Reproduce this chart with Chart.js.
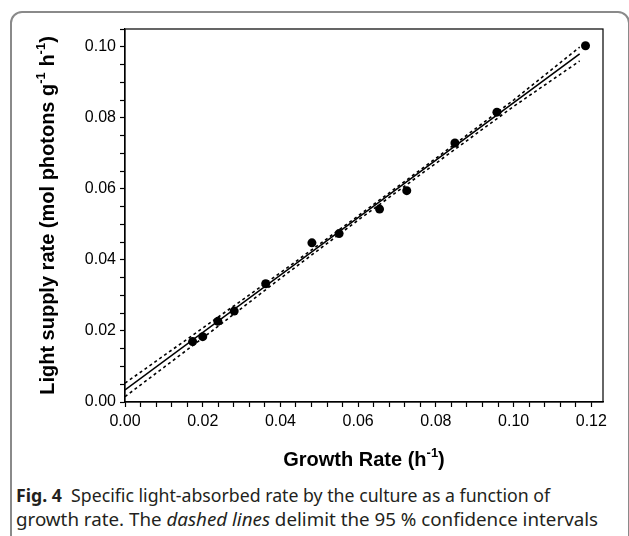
<!DOCTYPE html>
<html><head><meta charset="utf-8">
<script src="https://cdn.jsdelivr.net/npm/chart.js@4.4.1/dist/chart.umd.min.js"></script>
<style>
html,body{margin:0;padding:0;background:#fff}
body{width:629px;height:536px;overflow:hidden;position:relative}
#frame{position:absolute;left:10px;top:11px;width:620px;height:600px;border:2px solid #8a8a8a;border-radius:12px;box-sizing:border-box}
#wrap{position:absolute;left:0;top:0;width:629px;height:475px}
.cap{position:absolute;left:16px;font-family:'Noto Sans',sans-serif;font-size:18px;line-height:22px;color:#231f20;white-space:nowrap;transform-origin:0 50%}
</style></head><body>
<div id="frame"></div>
<div id="wrap"><canvas id="c"></canvas></div>
<div class="cap" id="cap1" style="top:484px"><b>Fig. 4</b>&nbsp; Specific light-absorbed rate by the culture as a function of</div>
<div class="cap" id="cap2" style="top:508px">growth rate. The <i>dashed lines</i> delimit the 95 % confidence intervals</div>
<script>
// measured points
const growthRate      = [0.0174, 0.0200, 0.0239, 0.0281, 0.0362, 0.0481, 0.0551, 0.0655, 0.0725, 0.0849, 0.0957, 0.1185];
const lightSupplyRate = [0.0170, 0.0184, 0.0227, 0.0256, 0.0333, 0.0448, 0.0474, 0.0543, 0.0595, 0.0729, 0.0816, 0.1003];
// regression line
const fitX = [0, 0.117];
const fitY = [0.0034, 0.0980];
// 95 % confidence bands
const ciX     = [0, 0.02, 0.04, 0.06, 0.08, 0.10, 0.117];
const ciUpper = [0.0053, 0.0208, 0.0364, 0.0524, 0.0686, 0.0850, 0.0999];
const ciLower = [0.0015, 0.0180, 0.0348, 0.0512, 0.0672, 0.0832, 0.0960];
// tick labels
const xTickLabels = ['0.00','0.02','0.04','0.06','0.08','0.10','0.12'];
const yTickLabels = ['0.00','0.02','0.04','0.06','0.08','0.10'];

// fit caption lines to the reference widths
(function () {
  const fit = (id, w) => {
    const el = document.getElementById(id);
    el.style.transform = 'scaleX(' + (w / el.getBoundingClientRect().width) + ')';
  };
  fit('cap1', 534);
  fit('cap2', 582);
})();

const xy = (xs, ys) => xs.map((x, i) => ({x: x, y: ys[i]}));
const tickFont = {family: "'Liberation Sans', Arial, sans-serif", size: 16};

const framePlugin = {
  id: 'framePlugin',
  afterDraw(chart) {
    const {ctx, chartArea: a} = chart;
    ctx.save();
    ctx.strokeStyle = '#000';
    ctx.lineWidth = 1.2;
    ctx.strokeRect(a.left, a.top, a.right - a.left, a.bottom - a.top);
    const drawRich = (parts, cx, cy) => {
      const big = "bold 20px 'Liberation Sans', Arial, sans-serif";
      const small = "bold 13px 'Liberation Sans', Arial, sans-serif";
      let w = 0;
      parts.forEach(p => { ctx.font = p.sup ? small : big; w += ctx.measureText(p.t).width; });
      let x = cx - w / 2;
      ctx.textBaseline = 'middle';
      ctx.textAlign = 'left';
      ctx.fillStyle = '#000';
      parts.forEach(p => {
        ctx.font = p.sup ? small : big;
        ctx.fillText(p.t, x, p.sup ? cy - 7 : cy);
        x += ctx.measureText(p.t).width;
      });
    };
    drawRich([{t:'Growth Rate (h'},{t:'-1',sup:true},{t:')'}], (a.left + a.right) / 2, 460);
    ctx.translate(48, (a.top + a.bottom) / 2);
    ctx.rotate(-Math.PI / 2);
    drawRich([{t:'Light supply rate (mol photons g'},{t:'-1',sup:true},{t:' h'},{t:'-1',sup:true},{t:')'}], 0, 0);
    ctx.restore();
  }
};

new Chart(document.getElementById('c'), {
  type: 'scatter',
  data: {
    datasets: [
      {data: xy(fitX, fitY), showLine: true, borderColor: '#000', borderWidth: 1.6, pointRadius: 0, order: 2},
      {data: xy(ciX, ciUpper), showLine: true, borderColor: '#000', borderWidth: 1.6, borderDash: [3, 3], pointRadius: 0, order: 3},
      {data: xy(ciX, ciLower), showLine: true, borderColor: '#000', borderWidth: 1.6, borderDash: [3, 3], pointRadius: 0, order: 3},
      {data: xy(growthRate, lightSupplyRate), showLine: false, pointRadius: 4.5, pointBackgroundColor: '#000', pointBorderColor: '#000', pointBorderWidth: 0, order: 1}
    ]
  },
  options: {
    responsive: true, maintainAspectRatio: false, animation: false,
    layout: {padding: {left: 0, right: 26, top: 29, bottom: 0}},
    plugins: {legend: {display: false}, tooltip: {enabled: false}},
    scales: {
      x: {
        type: 'linear', min: 0, max: 0.123,
        afterFit: s => { s.height = 73; },
        grid: {drawOnChartArea: false, tickLength: 5, color: '#000', tickColor: '#000', tickWidth: 1.2},
        border: {display: true, color: '#000', width: 1.2},
        ticks: {stepSize: 0.004, includeBounds: false, autoSkip: false, maxRotation: 0, padding: 5, color: '#000', font: tickFont,
          callback: v => { const s = v.toFixed(2); return (Math.round(v * 1000) % 20 === 0 && xTickLabels.includes(s)) ? s : ''; }}
      },
      y: {
        type: 'linear', min: 0, max: 0.105,
        afterFit: s => { s.width = 125; },
        grid: {drawOnChartArea: false, tickLength: 5, color: '#000', tickColor: '#000', tickWidth: 1.2},
        border: {display: true, color: '#000', width: 1.2},
        ticks: {stepSize: 0.005, includeBounds: false, autoSkip: false, padding: 4, color: '#000', font: tickFont,
          callback: v => { const s = v.toFixed(2); return (Math.round(v * 1000) % 20 === 0 && yTickLabels.includes(s)) ? s : ''; }}
      }
    }
  },
  plugins: [framePlugin]
});
</script>
</body></html>
